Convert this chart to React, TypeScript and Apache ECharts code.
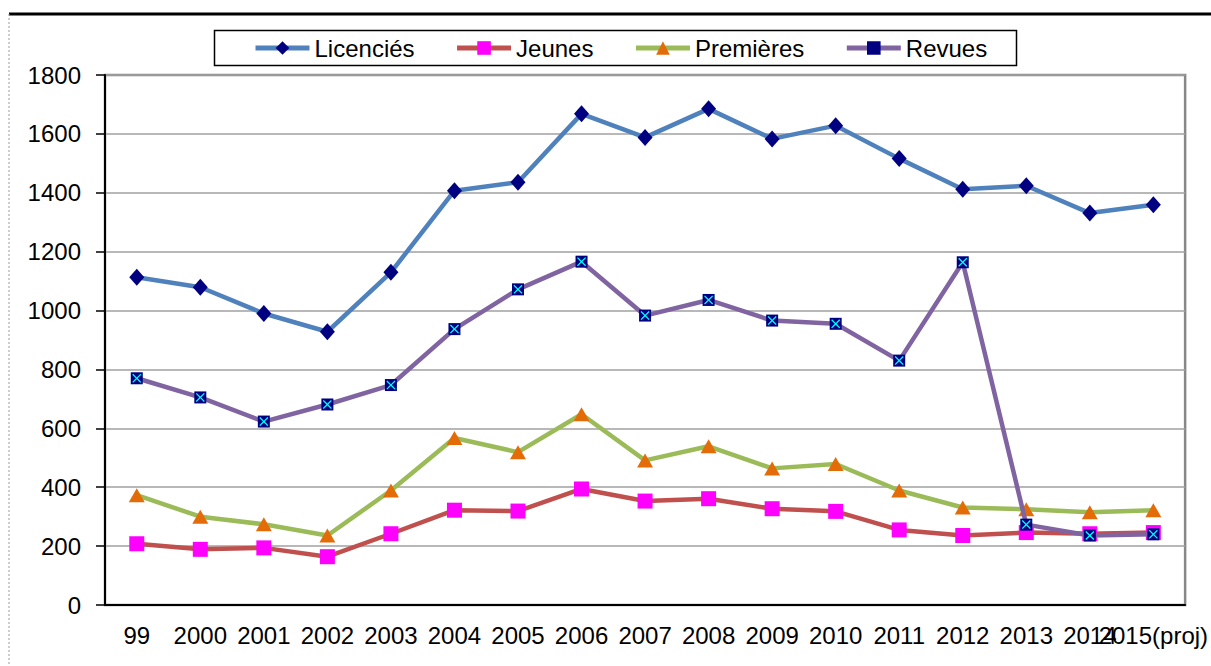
import React, { useEffect, useRef } from "react";
import * as echarts from "echarts";

const categories = ["99", "2000", "2001", "2002", "2003", "2004", "2005", "2006", "2007", "2008", "2009", "2010", "2011", "2012", "2013", "2014", "2015(proj)"];
const licencies = [1113, 1079, 990, 928, 1130, 1407, 1436, 1668, 1588, 1685, 1583, 1628, 1516, 1412, 1424, 1331, 1359];
const jeunes = [208, 189, 194, 164, 242, 322, 319, 394, 353, 361, 327, 318, 255, 236, 246, 242, 246];
const premieres = [373, 300, 274, 236, 389, 567, 519, 648, 491, 539, 464, 479, 389, 331, 325, 315, 322];
const revues = [770, 705, 623, 681, 747, 937, 1072, 1166, 983, 1036, 966, 955, 830, 1164, 273, 236, 240];

const FONT = "'Liberation Sans', Arial, sans-serif";
const X_PATH = "path://M0,1 L1,0 L5,4 L9,0 L10,1 L6,5 L10,9 L9,10 L5,6 L1,10 L0,9 L4,5 Z";

export default function App() {
  const ref = useRef<HTMLDivElement>(null);
  useEffect(() => {
    if (!ref.current) return;
    const chart = echarts.init(ref.current, null, { renderer: "svg" });
    chart.setOption({
      animation: false,
      backgroundColor: "#ffffff",
      textStyle: { fontFamily: FONT },
      grid: {
        left: 105,
        right: 24,
        top: 75,
        bottom: 61,
        show: true,
        borderColor: "#888888",
        borderWidth: 2.5,
        backgroundColor: "transparent",
      },
      legend: {
        data: ["Licenciés", "Jeunes", "Premières", "Revues"],
        left: 253,
        top: 36,
        padding: 0,
        itemWidth: 54,
        itemHeight: 17,
        itemGap: 40,
        lineStyle: { width: 5 },
        textStyle: { fontFamily: FONT, fontSize: 24, color: "#000" },
      },
      graphic: [
        {
          type: "line",
          shape: { x1: 9, y1: 14, x2: 1211, y2: 14 },
          style: { stroke: "#000", lineWidth: 3 },
        },
        {
          type: "line",
          shape: { x1: 9, y1: 14, x2: 9, y2: 666 },
          style: { stroke: "#999", lineWidth: 1, lineDash: [2, 2] },
        },
        {
          type: "rect",
          shape: { x: 214.5, y: 30.5, width: 802, height: 35 },
          style: { fill: "none", stroke: "#000", lineWidth: 1.5 },
        },
      ],
      xAxis: {
        type: "category",
        data: categories,
        boundaryGap: true,
        axisLine: { show: true, lineStyle: { color: "#000", width: 2 } },
        axisTick: { show: false },
        axisLabel: {
          interval: 0,
          hideOverlap: false,
          fontSize: 24,
          color: "#000",
          fontFamily: FONT,
          margin: 18,
        },
        splitLine: { show: false },
      },
      yAxis: {
        type: "value",
        min: 0,
        max: 1800,
        interval: 200,
        axisLine: { show: true, lineStyle: { color: "#000", width: 2 } },
        axisTick: { show: true, length: 9, lineStyle: { color: "#000", width: 1.5 } },
        axisLabel: {
          fontSize: 24,
          color: "#000",
          fontFamily: FONT,
          margin: 24,
          formatter: (v: number) => String(v),
        },
        splitLine: { show: true, lineStyle: { color: "#a0a0a0", width: 1.5 } },
      },
      series: [
        {
          name: "Licenciés",
          type: "line",
          data: licencies,
          symbol: "diamond",
          symbolSize: [15, 17],
          lineStyle: { color: "#4F81BD", width: 4.5 },
          itemStyle: { color: "#000080" },
          z: 5,
        },
        {
          name: "Jeunes",
          type: "line",
          data: jeunes,
          symbol: "rect",
          symbolSize: 15,
          lineStyle: { color: "#C0504D", width: 4.5 },
          itemStyle: { color: "#FF00FF" },
          z: 3,
        },
        {
          name: "Premières",
          type: "line",
          data: premieres,
          symbol: "triangle",
          symbolSize: [16, 14],
          lineStyle: { color: "#9BBB59", width: 4.5 },
          itemStyle: { color: "#E36C09" },
          z: 4,
        },
        {
          name: "Revues",
          type: "line",
          data: revues,
          symbol: "rect",
          symbolSize: 12,
          lineStyle: { color: "#8064A2", width: 4.5 },
          itemStyle: { color: "#000080" },
          z: 6,
        },
        {
          name: "RevuesX",
          type: "line",
          data: revues,
          symbol: X_PATH,
          symbolSize: 9,
          lineStyle: { width: 0, opacity: 0 },
          itemStyle: { color: "#00FFFF" },
          z: 7,
        },
      ],
    });
    return () => chart.dispose();
  }, []);
  return (
    <div
      ref={ref}
      style={{ position: "fixed", left: 0, top: 0, width: 1211, height: 666 }}
    />
  );
}
